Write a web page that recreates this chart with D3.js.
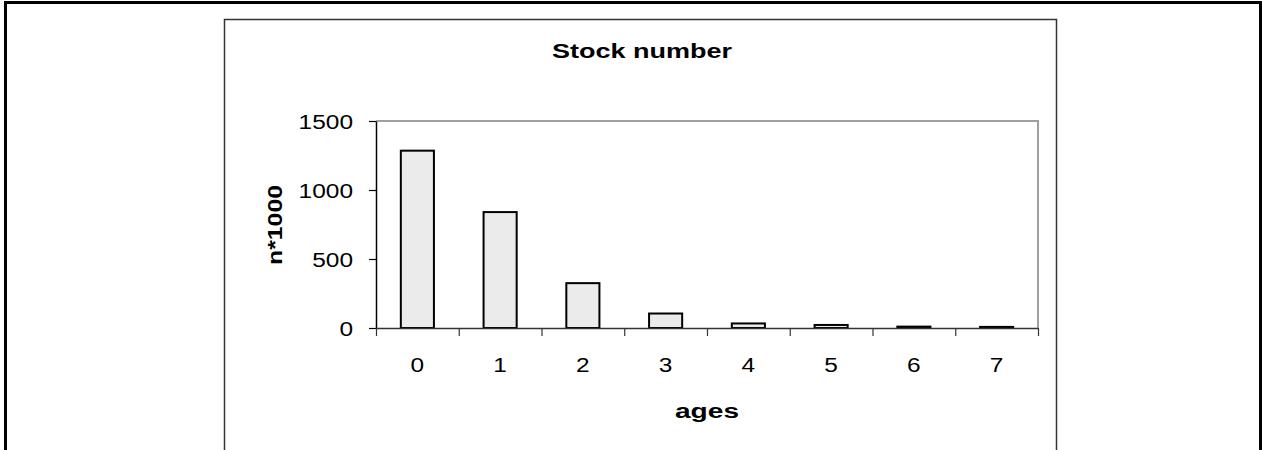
<!DOCTYPE html>
<html>
<head>
<meta charset="utf-8">
<script src="https://cdn.jsdelivr.net/npm/d3@7"></script>
<style>
  html, body { margin: 0; padding: 0; background: #fff; }
  svg { display: block; }
  text { font-family: "Liberation Sans", Arial, sans-serif; fill: #000; }
</style>
</head>
<body>
<svg id="chart" width="1262" height="450"></svg>
<script>
const categories = ["0", "1", "2", "3", "4", "5", "6", "7"];
const stockValues = [1285, 840, 325, 105, 33, 22, 10, 8];
const yTickValues = [0, 500, 1000, 1500];
const titleText = "Stock number";
const xAxisTitle = "ages";
const yAxisTitle = "n*1000";

const svg = d3.select("#chart");

// outer page border
svg.append("rect")
  .attr("x", 5.5).attr("y", 2.5)
  .attr("width", 1255).attr("height", 460)
  .attr("fill", "none").attr("stroke", "#000").attr("stroke-width", 3);

// chart frame
svg.append("rect")
  .attr("x", 224.5).attr("y", 19.5)
  .attr("width", 832).attr("height", 460)
  .attr("fill", "#fff").attr("stroke", "#333").attr("stroke-width", 1.5);

const plot = { left: 376, right: 1038, top: 121, bottom: 328 };

const x = d3.scaleBand().domain(categories).range([plot.left, plot.right]).padding(0);
const xEdge = d3.scaleLinear().domain([0, categories.length]).range([plot.left, plot.right]);
const y = d3.scaleLinear().domain([0, 1500]).range([plot.bottom, plot.top]);

// plot area top/right border (gray)
svg.append("path")
  .attr("d", `M${plot.left},${plot.top}H${plot.right}V${plot.bottom}`)
  .attr("fill", "none").attr("stroke", "#a0a0a0").attr("stroke-width", 2);

// bars
const bw = x.bandwidth() * 0.4;
svg.append("g").selectAll("rect")
  .data(categories.map((c, i) => ({ c, v: stockValues[i] })))
  .join("rect")
  .attr("x", d => x(d.c) + (x.bandwidth() - bw) / 2)
  .attr("y", d => y(d.v))
  .attr("width", bw)
  .attr("height", d => y(0) - y(d.v))
  .attr("fill", "#ebebeb")
  .attr("stroke", "#000")
  .attr("stroke-width", 2);

// y axis
const yAxis = svg.append("g")
  .attr("transform", `translate(${plot.left},0)`)
  .call(d3.axisLeft(y).tickValues(yTickValues).tickFormat(d3.format("d"))
    .tickSize(7).tickSizeOuter(0).tickPadding(16));
yAxis.select(".domain").attr("stroke", "#000").attr("stroke-width", 1.5);
yAxis.selectAll(".tick line").attr("stroke", "#000").attr("stroke-width", 1.2);
yAxis.selectAll(".tick text")
  .attr("font-size", 20)
  .attr("font-family", "Liberation Sans, Arial, sans-serif")
  .attr("fill", "#000")
  .attr("dy", "0.36em")
  .each(function (d) {
    const s = String(d);
    d3.select(this).attr("textLength", s.length * 13.6).attr("lengthAdjust", "spacingAndGlyphs");
  });

// x axis: edge ticks
const xEdgeAxis = svg.append("g")
  .attr("transform", `translate(0,${plot.bottom})`)
  .call(d3.axisBottom(xEdge).tickValues(d3.range(categories.length + 1)).tickSize(8).tickSizeOuter(0).tickFormat(""));
xEdgeAxis.select(".domain").attr("stroke", "#333").attr("stroke-width", 1.5);
xEdgeAxis.selectAll(".tick line").attr("stroke", "#333").attr("stroke-width", 1.2);

// x axis: category labels
const xLab = svg.append("g")
  .attr("transform", `translate(0,${plot.bottom})`)
  .call(d3.axisBottom(x).tickSize(0).tickPadding(30));
xLab.select(".domain").remove();
xLab.selectAll(".tick text")
  .attr("font-size", 20.5)
  .attr("font-family", "Liberation Sans, Arial, sans-serif")
  .attr("fill", "#000")
  .attr("dy", "0.71em")
  .attr("y", 29)
  .attr("textLength", 13.6).attr("lengthAdjust", "spacingAndGlyphs");

// title
svg.append("text")
  .attr("x", 642).attr("y", 58)
  .attr("text-anchor", "middle")
  .attr("font-size", 20).attr("font-weight", "bold")
  .attr("textLength", 180).attr("lengthAdjust", "spacingAndGlyphs")
  .text(titleText);

// x axis title
svg.append("text")
  .attr("x", (plot.left + plot.right) / 2).attr("y", 418)
  .attr("text-anchor", "middle")
  .attr("font-size", 20).attr("font-weight", "bold")
  .attr("textLength", 64).attr("lengthAdjust", "spacingAndGlyphs")
  .text(xAxisTitle);

// y axis title
svg.append("text")
  .attr("transform", `translate(282,225) rotate(-90)`)
  .attr("text-anchor", "middle")
  .attr("font-size", 20).attr("font-weight", "bold")
  .attr("textLength", 80).attr("lengthAdjust", "spacingAndGlyphs")
  .text(yAxisTitle);
</script>
</body>
</html>
